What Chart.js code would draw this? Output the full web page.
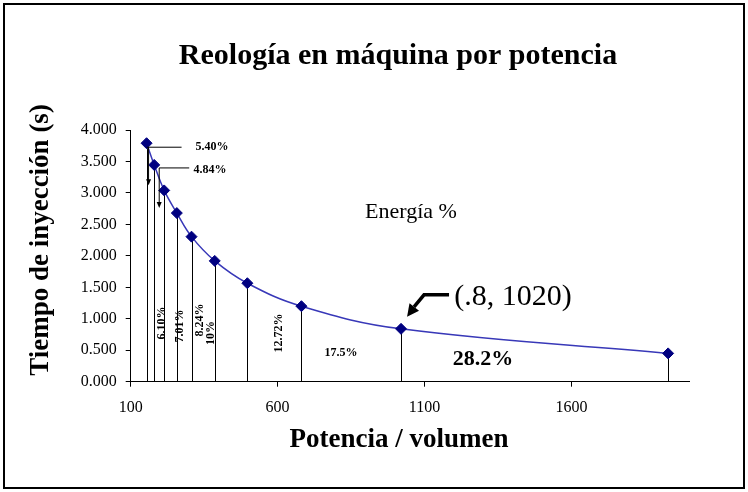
<!DOCTYPE html>
<html>
<head>
<meta charset="utf-8">
<script src="https://cdn.jsdelivr.net/npm/chart.js@4.4.1/dist/chart.umd.min.js"></script>
<style>
  body { margin: 0; background: #fff; }
  #wrap { width: 748px; height: 492px; }
</style>
</head>
<body>
<div id="wrap"><canvas id="grafico" width="748" height="492"></canvas></div>
<script>
// datos
const potencia = [154, 180, 214, 257, 307, 386, 497, 681, 1020, 1929]
const tiempo = [3.79, 3.445, 3.04, 2.68, 2.305, 1.92, 1.565, 1.20, 0.84, 0.45]
const xTicks = [100, 600, 1100, 1600]
const yTicks = [0, 0.5, 1, 1.5, 2, 2.5, 3, 3.5, 4]
const etiquetasEnergia = ['5.40%', '4.84%', '6.10%', '7.01%', '8.24%', '10%', '12.72%', '17.5%', '28.2%']

const serif = '"Liberation Serif", "Times New Roman", serif'

const puntos = potencia.map((x, i) => ({ x: x, y: tiempo[i] }))

// dibuja texto
const texto = (ctx, s, x, y, font, rot) => {
    ctx.save()
    ctx.translate(x, y)
    if (rot) ctx.rotate(rot)
    ctx.font = font
    ctx.fillStyle = '#000'
    ctx.textAlign = 'center'
    ctx.textBaseline = 'middle'
    ctx.fillText(s, 0, 0)
    ctx.restore()
}

const flechita = (ctx, x, y1, y2) => {
    ctx.beginPath()
    ctx.moveTo(x, y1)
    ctx.lineTo(x, y2 - 5)
    ctx.stroke()
    ctx.beginPath()
    ctx.moveTo(x - 2.5, y2 - 6)
    ctx.lineTo(x + 2.5, y2 - 6)
    ctx.lineTo(x, y2)
    ctx.closePath()
    ctx.fill()
}

// líneas verticales de cada punto al eje
const lineasCaida = {
    id: 'lineasCaida',
    beforeDatasetsDraw(chart) {
        const ctx = chart.ctx
        const sx = chart.scales.x
        const sy = chart.scales.y
        ctx.save()
        ctx.strokeStyle = '#000'
        ctx.lineWidth = 1
        puntos.forEach(p => {
            const x = Math.round(sx.getPixelForValue(p.x)) + 0.5
            ctx.beginPath()
            ctx.moveTo(x, sy.getPixelForValue(p.y))
            ctx.lineTo(x, sy.getPixelForValue(0))
            ctx.stroke()
        })
        ctx.restore()
    }
}

const anotaciones = {
    id: 'anotaciones',
    afterDraw(chart) {
        const ctx = chart.ctx
        const sx = chart.scales.x
        const sy = chart.scales.y
        const px = i => sx.getPixelForValue(potencia[i])
        const py = i => sy.getPixelForValue(tiempo[i])

        ctx.save()
        // marco
        ctx.strokeStyle = '#000'
        ctx.lineWidth = 2
        ctx.strokeRect(4, 4, 740, 484)

        texto(ctx, 'Reología en máquina por potencia', 398, 56, 'bold 30px ' + serif)
        texto(ctx, 'Tiempo de inyección (s)', 41, 240, 'bold 27px ' + serif, -Math.PI / 2)
        texto(ctx, 'Potencia / volumen', 399, 440, 'bold 27px ' + serif)
        texto(ctx, 'Energía %', 411, 212, '22px ' + serif)
        texto(ctx, '(.8, 1020)', 513, 297, '30px ' + serif)

        // leyendas de los primeros puntos
        ctx.lineWidth = 1
        ctx.fillStyle = '#000'
        let x1 = px(0), y1 = py(0) + 4
        ctx.beginPath(); ctx.moveTo(x1, y1); ctx.lineTo(x1 + 35, y1); ctx.stroke()
        flechita(ctx, x1 + 2, y1, y1 + 38)
        texto(ctx, etiquetasEnergia[0], 212, 147, 'bold 12px ' + serif)
        let x2 = px(1) + 5, y2 = py(1) + 3
        ctx.beginPath(); ctx.moveTo(x2, y2); ctx.lineTo(x2 + 30, y2); ctx.stroke()
        flechita(ctx, x2, y2, y2 + 40)
        texto(ctx, etiquetasEnergia[1], 210, 170, 'bold 12px ' + serif)

        const vert = -Math.PI / 2
        texto(ctx, etiquetasEnergia[2], 162, 323, 'bold 12px ' + serif, vert)
        texto(ctx, etiquetasEnergia[3], 180, 326, 'bold 12px ' + serif, vert)
        texto(ctx, etiquetasEnergia[4], 200, 320, 'bold 12px ' + serif, vert)
        texto(ctx, etiquetasEnergia[5], 211, 333, 'bold 12px ' + serif, vert)
        texto(ctx, etiquetasEnergia[6], 279, 333, 'bold 12px ' + serif, vert)
        texto(ctx, etiquetasEnergia[7], 341, 353, 'bold 12px ' + serif)
        texto(ctx, etiquetasEnergia[8], 483, 359, 'bold 22px ' + serif)

        // flecha gruesa hacia (.8, 1020)
        const tx = px(8) + 6, ty = py(8) - 12
        ctx.lineWidth = 3.5
        ctx.beginPath()
        ctx.moveTo(tx + 42, ty - 22)
        ctx.lineTo(tx + 17, ty - 22)
        ctx.lineTo(tx + 7, ty - 10)
        ctx.stroke()
        ctx.beginPath()
        ctx.moveTo(tx, ty)
        ctx.lineTo(tx + 12, ty - 6)
        ctx.lineTo(tx + 2.5, ty - 13.5)
        ctx.closePath()
        ctx.fill()
        ctx.restore()
    }
}

let grafico = new Chart(document.getElementById('grafico'), {
    type: 'scatter',
    data: {
        datasets: [{
            data: puntos,
            showLine: true,
            tension: 0.4,
            borderColor: '#3838b8',
            borderWidth: 1.5,
            pointStyle: 'rectRot',
            pointRadius: 5.5,
            pointBackgroundColor: '#000080',
            pointBorderColor: '#000080',
            pointBorderWidth: 1
        }]
    },
    options: {
        responsive: false,
        animation: false,
        layout: { padding: { top: 130, right: 59, left: 0, bottom: 0 } },
        plugins: { legend: { display: false }, tooltip: { enabled: false }, title: { display: false } },
        scales: {
            x: {
                type: 'linear',
                min: 100,
                max: 2000,
                afterBuildTicks: s => { s.ticks = xTicks.map(v => ({ value: v })) },
                afterFit: s => { s.height = 110.3 },
                grid: { drawOnChartArea: false, drawTicks: true, tickLength: 5, color: '#000' },
                border: { color: '#000', width: 1 },
                ticks: { color: '#000', font: { family: serif, size: 16 }, padding: 11, maxRotation: 0, callback: v => String(v) }
            },
            y: {
                min: 0,
                max: 4,
                afterBuildTicks: s => { s.ticks = yTicks.map(v => ({ value: v })) },
                afterFit: s => { s.width = 130.7 },
                grid: { drawOnChartArea: false, drawTicks: true, tickLength: 5, color: '#000' },
                border: { color: '#000', width: 1 },
                ticks: { color: '#000', font: { family: serif, size: 16 }, padding: 9, callback: v => v.toFixed(3) }
            }
        }
    },
    plugins: [lineasCaida, anotaciones]
})
</script>
</body>
</html>
